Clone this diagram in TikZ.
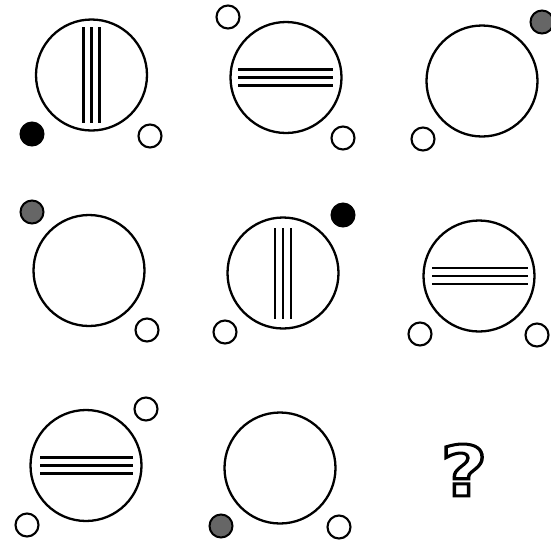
\documentclass[tikz,border=0pt]{standalone}
\usepackage{fontspec}
\newfontfamily\qfont{DejaVu Sans}
\newcommand{\hollowtext}[1]{\special{pdf:literal direct 1 Tr 3 w 0 G}#1\special{pdf:literal direct 0 Tr}}
\begin{document}
\begin{tikzpicture}[x=1pt,y=-1pt,
  big/.style={circle,draw=black,line width=2.3pt,minimum size=111pt,inner sep=0pt},
  small/.style={circle,draw=black,line width=2.1pt,minimum size=23pt,inner sep=0pt},
  blackdot/.style={circle,draw=black,fill=black,line width=1pt,minimum size=24pt,inner sep=0pt},
  greydot/.style={circle,draw=black,fill=black!60,line width=2pt,minimum size=23pt,inner sep=0pt},
  stripe/.style={line width=2.4pt,black}]
\useasboundingbox (0,0) rectangle (551,544);
% row 1
\node[big] (c1) at (91.5,75) {};
\foreach \d in {-8,0,8} \draw[stripe] ([shift={(\d,-48)}]c1.center) -- ([shift={(\d,48)}]c1.center);
\node[blackdot] (c1a) at (32,134) {};
\node[small] (c1b) at (150,136) {};

\node[big] (c2) at (286,77.5) {};
\foreach \d in {-8,0,8} \draw[stripe] ([shift={(-48,\d)}]c2.center) -- ([shift={(47,\d)}]c2.center);
\node[small] (c2a) at (228,17) {};
\node[small] (c2b) at (343,138) {};

\node[big] (c3) at (482,81) {};
\node[greydot] (c3a) at (542,22) {};
\node[small] (c3b) at (423,139) {};
% row 2
\node[big] (c4) at (89,270.5) {};
\node[greydot] (c4a) at (32,212) {};
\node[small] (c4b) at (147,330) {};

\node[big] (c5) at (283,273) {};
\foreach \d in {-8,0,8} \draw[stripe] ([shift={(\d,-45)}]c5.center) -- ([shift={(\d,46)}]c5.center);
\node[blackdot] (c5a) at (343,215) {};
\node[small] (c5b) at (225,332) {};

\node[big] (c6) at (479,276) {};
\foreach \d in {-8,0,8} \draw[stripe] ([shift={(-47,\d)}]c6.center) -- ([shift={(49,\d)}]c6.center);
\node[small] (c6a) at (420,334) {};
\node[small] (c6b) at (537,335) {};
% row 3
\node[big] (c7) at (86,465.5) {};
\foreach \d in {-8,0,8} \draw[stripe] ([shift={(-46,\d)}]c7.center) -- ([shift={(47,\d)}]c7.center);
\node[small] (c7a) at (146,409) {};
\node[small] (c7b) at (27,525) {};

\node[big] (c8) at (280,468) {};
\node[greydot] (c8a) at (221,526) {};
\node[small] (c8b) at (339,527) {};

\node[inner sep=0pt,xscale=1.15] (q) at (464,470) {\qfont\bfseries\fontsize{70}{70}\selectfont\hollowtext{?}};
\end{tikzpicture}
\end{document}
